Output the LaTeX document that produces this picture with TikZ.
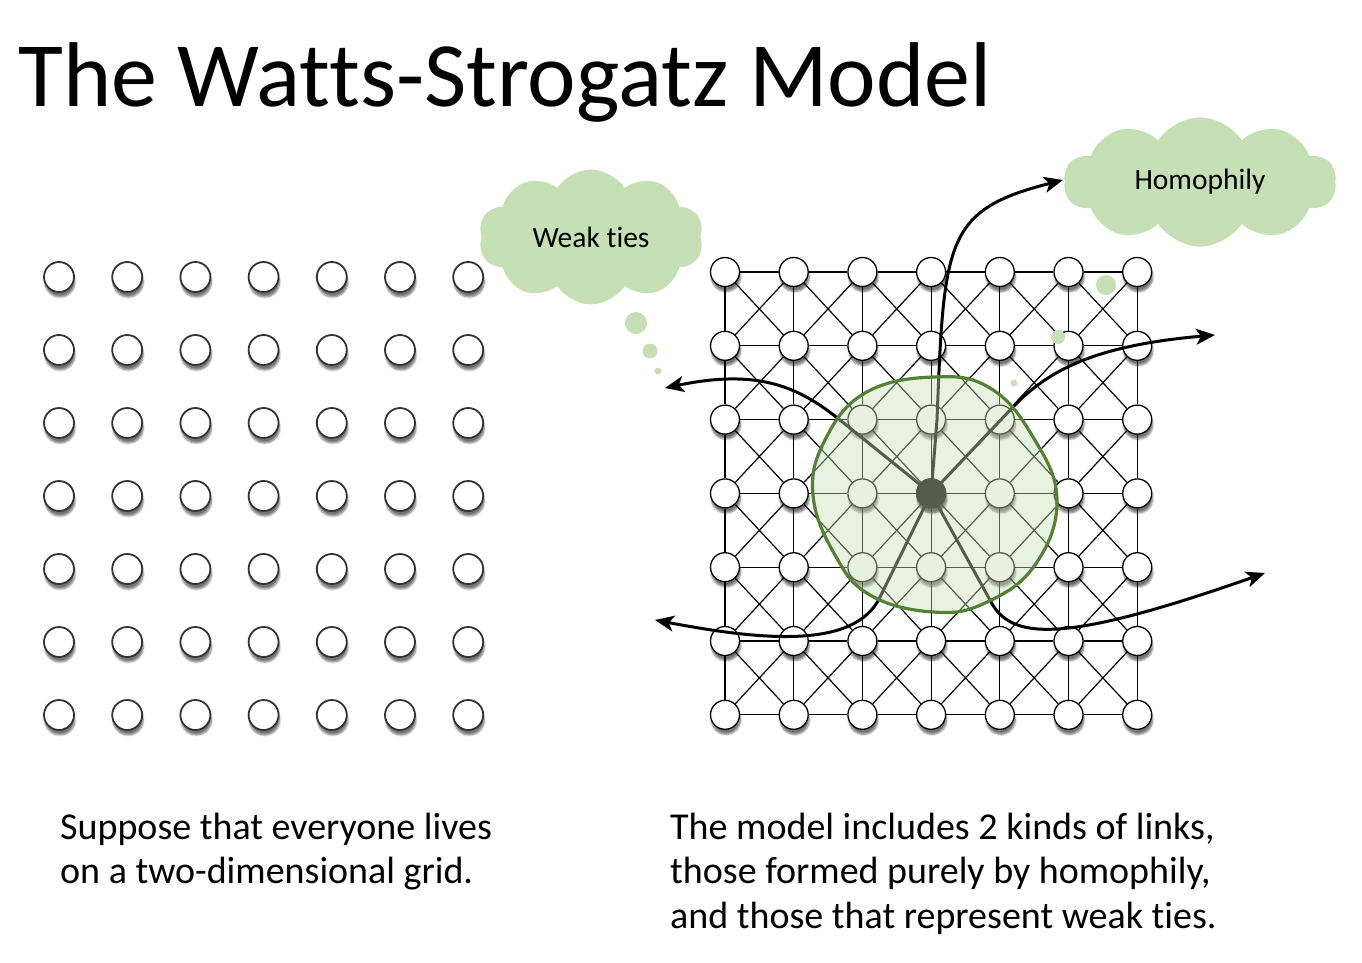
\documentclass[tikz,border=0pt]{standalone}
\usepackage{fontspec}
\setmainfont[Ligatures=NoCommon]{Carlito}
\usetikzlibrary{arrows.meta,shapes.symbols,shadows.blur,backgrounds}
\definecolor{cloudgreen}{HTML}{C5E0B4}
\definecolor{blobgreen}{HTML}{548235}
\tikzset{
  person/.style={circle, draw=black!80, line width=1.8pt, fill=white, minimum size=30pt, inner sep=0pt,
    blur shadow={shadow xshift=1pt, shadow yshift=-5pt, shadow blur steps=6, shadow opacity=55}},
  resident/.style={person, draw=black, line width=1.3pt, minimum size=29pt},
  link/.style={line width=1.2pt},
  weaktie/.style={line width=3pt, -{Stealth[length=19pt,width=16pt,inset=5pt]}},
  thought/.style={cloud, cloud puffs=10, cloud puff arc=115, aspect=1.8, fill=cloudgreen, inner sep=0pt,
    font=\fontsize{29.5}{34}\selectfont},
  bubble/.style={circle, fill=cloudgreen, inner sep=0pt},
}

\begin{document}
\begin{tikzpicture}[x=1pt,y=-1pt]
  \useasboundingbox (0,0) rectangle (1362,962);
  \node[anchor=base west, inner sep=0pt, font=\fontsize{92}{110}\selectfont] (title) at (18,106) {The Watts-Strogatz Model};

  % everyone on a grid
  \foreach \i in {0,...,6}
    \foreach \j in {0,...,6}
      \node[person] (L-\i-\j) at ({59+68.2*\i},{277+73*\j}) {};

  % the model
  \foreach \i in {0,...,6}
    \foreach \j in {0,...,6}
      \node[resident] (R-\i-\j) at ({725+68.7*\i},{272+73.8*\j}) {};
  \node[resident, fill=black] at (R-3-3) {};
  \begin{pgfonlayer}{background}
    \foreach \i in {0,...,5}{
      \pgfmathtruncatemacro\n{\i+1}
      \foreach \j in {0,...,6}{
        \draw[link] (R-\i-\j) -- (R-\n-\j);
        \draw[link] (R-\j-\i) -- (R-\j-\n);
      }
      \foreach \j in {0,...,5}{
        \pgfmathtruncatemacro\m{\j+1}
        \draw[link] (R-\i-\j) -- (R-\n-\m);
        \draw[link] (R-\n-\j) -- (R-\i-\m);
      }
    }
  \end{pgfonlayer}

  % weak ties
  \draw[weaktie] (R-3-3.center) -- (937,420) .. controls (944,240) and (945,210) .. (1063,180);
  \draw[weaktie] (R-3-3.center) -- (840,420) .. controls (800,388) and (760,368) .. (665,388);
  \draw[weaktie] (R-3-3.center) -- (1013,407) .. controls (1050,368) and (1100,345) .. (1215,335);
  \draw[weaktie] (R-3-3.center) -- (880,597) .. controls (855,650) and (760,640) .. (655,620);
  \draw[weaktie] (R-3-3.center) -- (990,600) .. controls (1010,640) and (1060,645) .. (1265,573);

  % homophily
  \fill[cloudgreen, opacity=0.42] plot[smooth cycle, tension=0.7] coordinates {(933,377) (990,388) (1033,437) (1057,500) (1035,565) (985,603) (933,612) (870,595) (835,555) (813,495) (825,440) (865,393)};
  \draw[blobgreen, line width=3.2pt] plot[smooth cycle, tension=0.7] coordinates {(933,377) (990,388) (1033,437) (1057,500) (1035,565) (985,603) (933,612) (870,595) (835,555) (813,495) (825,440) (865,393)};

  % thought clouds
  \node[thought, minimum width=225pt, minimum height=135pt] (weak) at (591,237) {Weak ties};
  \node[bubble, minimum size=22pt] (w1) at (636,323) {};
  \node[bubble, minimum size=15pt] (w2) at (650,351) {};
  \node[bubble, minimum size=7pt] (w3) at (658,371) {};
  \node[thought, minimum width=272pt, minimum height=127pt] (homo) at (1200,182) {Homophily};
  \node[bubble, minimum size=20pt] (h1) at (1106,285) {};
  \node[bubble, minimum size=14pt] (h2) at (1058,337) {};
  \node[bubble, minimum size=7pt] (h3) at (1014,383) {};

  % captions
  \node[anchor=base west, inner sep=0pt, align=left, font=\fontsize{38}{44}\selectfont] (left) at (60,883) {Suppose that everyone lives\\on a two-dimensional grid.};
  \node[anchor=base west, inner sep=0pt, align=left, font=\fontsize{38}{44.5}\selectfont] (right) at (670,928) {The model includes 2 kinds of links,\\those formed purely by homophily,\\and those that represent weak ties.};
\end{tikzpicture}
\end{document}
